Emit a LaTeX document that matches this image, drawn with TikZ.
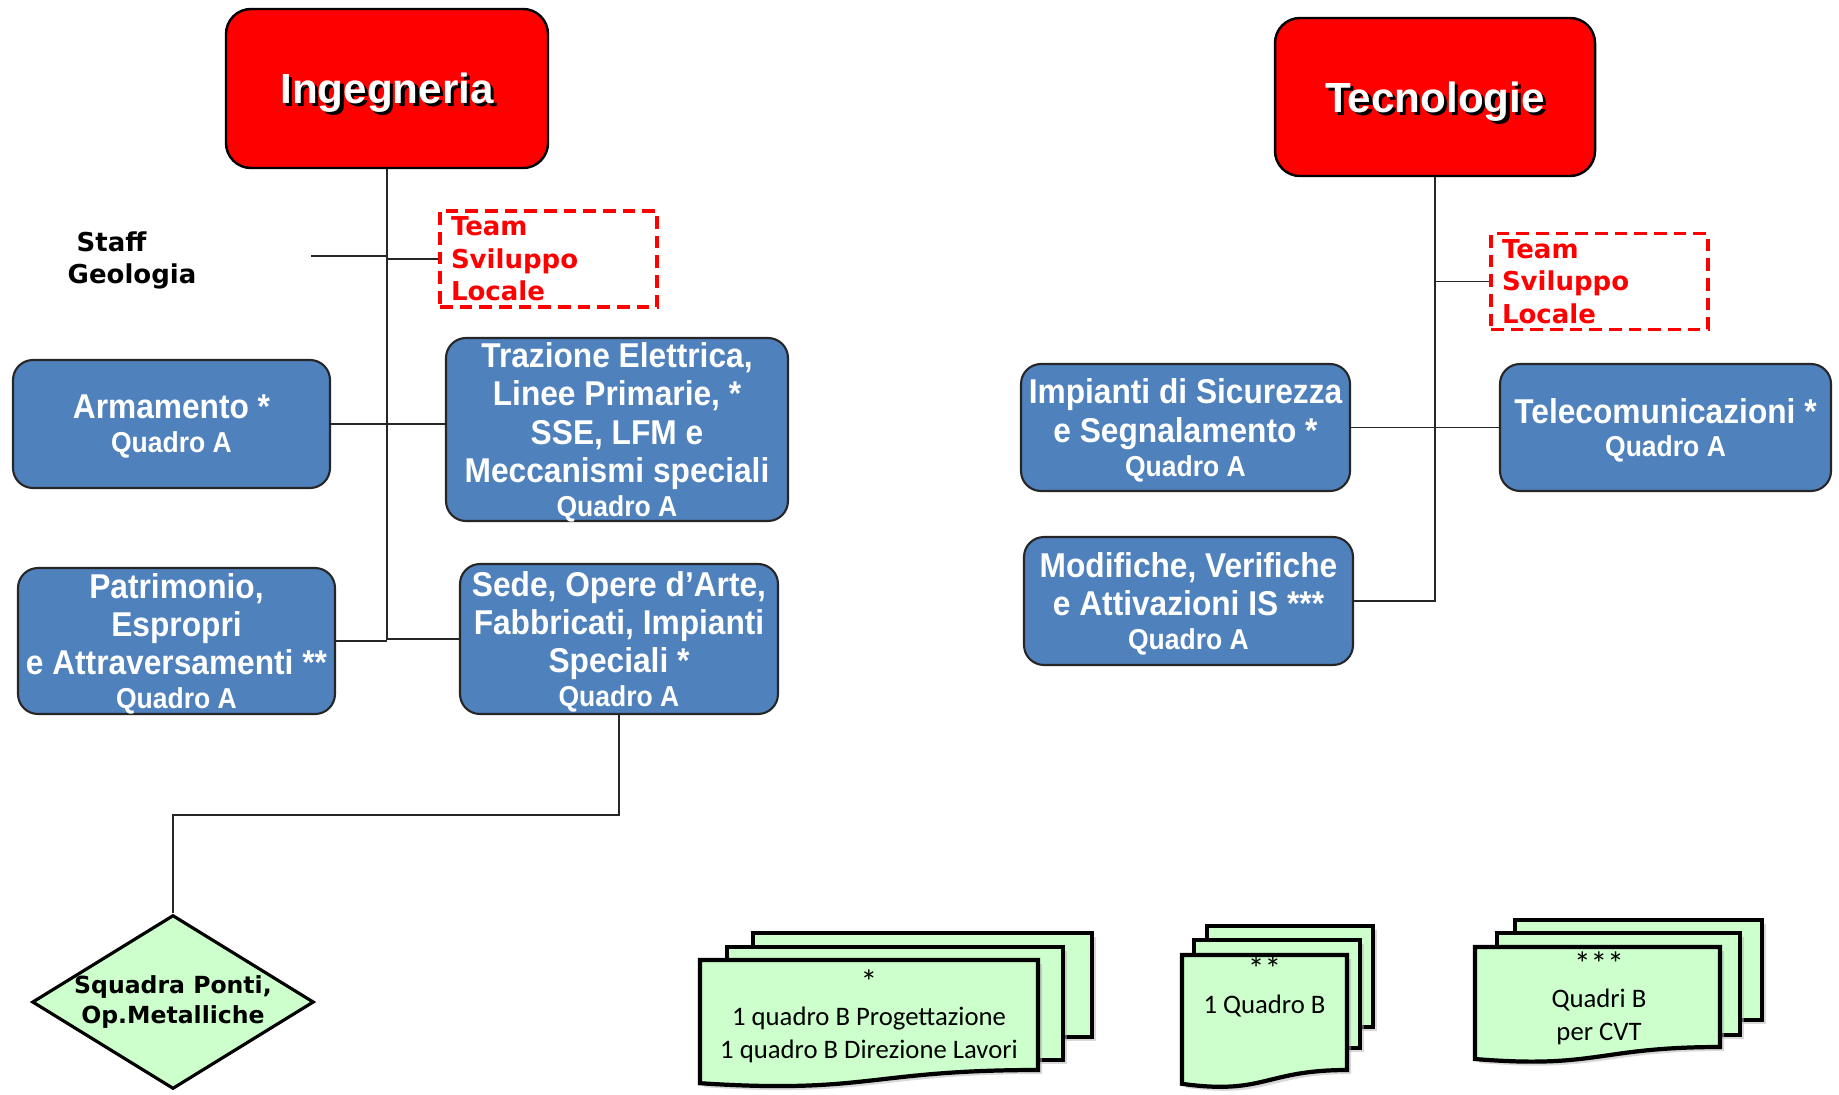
\documentclass[tikz,border=0pt]{standalone}
\usepackage{fontspec}
\setmainfont{Liberation Sans}
\newfontfamily\stretta{Liberation Sans}[FakeStretch=0.92]
\newfontfamily\verdana{DejaVu Sans}
\newfontfamily\calibri{Carlito}
\usetikzlibrary{shapes.geometric,shadows}

\definecolor{rosso}{HTML}{FF0000}
\definecolor{blu}{HTML}{4F81BD}
\definecolor{verde}{HTML}{CCFFCC}

\newcommand{\quadroA}{\\[-1.3pt]{\fontsize{8.2}{9}\selectfont Quadro A}}
\newcommand{\stelle}[1]{{\fontsize{9.5}{9.3}\selectfont #1}}
\newcommand{\ombra}[1]{\rlap{\hspace{0.9pt}\raisebox{-0.9pt}{\color{black}#1}}#1}
% foglio: x, y (angolo in alto a sinistra), larghezza, altezza a destra
\newcommand{\foglio}[4]{%
  \filldraw[pagina] (#1,#2) -- ++(#3,0) -- ++(0,-#4)
    .. controls +({-#3/2},0) and +({#3/2},{-0.10*#4}) .. ({#1},{#2-1.12*#4}) -- cycle;}

\tikzset{
  capo/.style={rectangle, rounded corners=0.25cm, draw=black, line width=0.7pt, fill=rosso,
    text=white, text depth=0pt, font=\bfseries\fontsize{12}{14}\selectfont},
  ufficio/.style={rectangle, rounded corners=0.2cm, draw=black!85, line width=0.6pt, fill=blu,
    text=white, text depth=-1pt, font=\stretta\bfseries\fontsize{9.8}{10.9}\selectfont,
    align=center, inner sep=1pt},
  team/.style={rectangle, draw=rosso, line width=0.9pt, dash pattern=on 3.6pt off 2pt,
    text=rosso, font=\verdana\bfseries\fontsize{7.4}{9.3}\selectfont, align=left,
    text width=1.95cm, minimum height=0.96cm, inner xsep=0.11cm, inner ysep=0.02cm},
  staff/.style={font=\verdana\bfseries\fontsize{7.4}{9.1}\selectfont, align=left, inner sep=0pt},
  rombo/.style={diamond, aspect=1.62, draw=black, line width=0.9pt, fill=verde, inner sep=0pt,
    minimum width=2.81cm, minimum height=1.73cm,
    font=\verdana\bfseries\fontsize{6.7}{8.3}\selectfont, align=center},
  pagina/.style={draw=black, line width=1.2pt, fill=verde,
    drop shadow={shadow xshift=0.04cm, shadow yshift=-0.04cm, fill=gray!60}},
  nota/.style={font=\calibri\fontsize{7.6}{9.3}\selectfont, align=center, inner sep=0pt},
  filo/.style={draw=black!85, line width=0.4pt}
}

\begin{document}
\begin{tikzpicture}
            \useasboundingbox (0,0) rectangle (18.39,-10.94);
            \fill[white] (0,0) rectangle (18.39,-10.94);

            % Ingegneria
            \node[capo, minimum width=3.22cm, minimum height=1.59cm] (ing) at (3.87,-0.885) {\ombra{Ingegneria}};
            \node[staff] (geo) at (0.67,-2.60) [anchor=west] {\hspace{0.09cm}Staff\\Geologia};
            \coordinate (g0) at (3.11,-2.56);
            \node[team] (tsl1) at (5.485,-2.59) {Team\\Sviluppo\\Locale};
            \node[ufficio, minimum width=3.17cm, minimum height=1.28cm] (arm) at (1.715,-4.24) {Armamento *\quadroA};
            \node[ufficio, minimum width=3.42cm, minimum height=1.83cm] (traz) at (6.17,-4.295) {Trazione Elettrica,\\Linee Primarie, *\\SSE, LFM e\\Meccanismi speciali\quadroA};
            \node[ufficio, minimum width=3.17cm, minimum height=1.46cm] (pat) at (1.765,-6.41) {Patrimonio,\\Espropri\\e Attraversamenti **\quadroA};
            \node[ufficio, minimum width=3.18cm, minimum height=1.50cm] (sede) at (6.19,-6.39) {Sede, Opere d’Arte,\\Fabbricati, Impianti\\Speciali *\quadroA};
            \node[rombo] (sq) at (1.73,-10.02) {Squadra Ponti,\\ Op.Metalliche};
            \draw[filo] (ing.south) |- (sede.west);
            \draw[filo] (g0) -- (g0 -| ing.south);
            \draw[filo] (ing.south |- tsl1.west) -- (tsl1.west);
            \draw[filo] (arm.east) -- (arm.east -| traz.west);
            \draw[filo] (pat.east) -- (pat.east -| ing.south);
            \draw[filo] (sede.south) -- ++(0,-1.0) -| (sq.north);

            % Tecnologie
            \node[capo, minimum width=3.20cm, minimum height=1.58cm] (tec) at (14.35,-0.97) {\ombra{Tecnologie}};
            \node[team] (tsl2) at (15.995,-2.815) {Team\\Sviluppo\\Locale};
            \node[ufficio, minimum width=3.29cm, minimum height=1.27cm] (imp) at (11.855,-4.275) {Impianti di Sicurezza\\e Segnalamento *\quadroA};
            \node[ufficio, minimum width=3.31cm, minimum height=1.27cm] (tel) at (16.655,-4.275) {Telecomunicazioni *\quadroA};
            \node[ufficio, minimum width=3.29cm, minimum height=1.28cm] (mod) at (11.885,-6.01) {Modifiche, Verifiche\\e Attivazioni IS ***\quadroA};
            \draw[filo] (tec.south) |- (mod.east);
            \draw[filo] (tec.south |- tsl2.west) -- (tsl2.west);
            \draw[filo] (imp.east) -- (tel.west);

            % note
            \filldraw[pagina] (7.53,-9.33) rectangle (10.92,-10.37);
            \filldraw[pagina] (7.27,-9.47) rectangle (10.63,-10.60);
            \foglio{7.00}{-9.60}{3.38}{1.10}
            \node[nota] (n1) at (8.69,-10.16) {\stelle{*}\\1 quadro B Progettazione\\1 quadro B Direzione Lavori};
            \filldraw[pagina] (12.07,-9.26) rectangle (13.73,-10.27);
            \filldraw[pagina] (11.94,-9.40) rectangle (13.60,-10.48);
            \foglio{11.82}{-9.55}{1.65}{1.15}
            \node[nota] (n2) at (12.645,-9.87) {\stelle{**}\\1 Quadro B};
            \filldraw[pagina] (15.15,-9.20) rectangle (17.62,-10.20);
            \filldraw[pagina] (14.97,-9.33) rectangle (17.40,-10.35);
            \foglio{14.75}{-9.47}{2.45}{1.00}
            \node[nota] (n3) at (15.99,-9.98) {\stelle{***}\\Quadri B\\per CVT};
\end{tikzpicture}
\end{document}
